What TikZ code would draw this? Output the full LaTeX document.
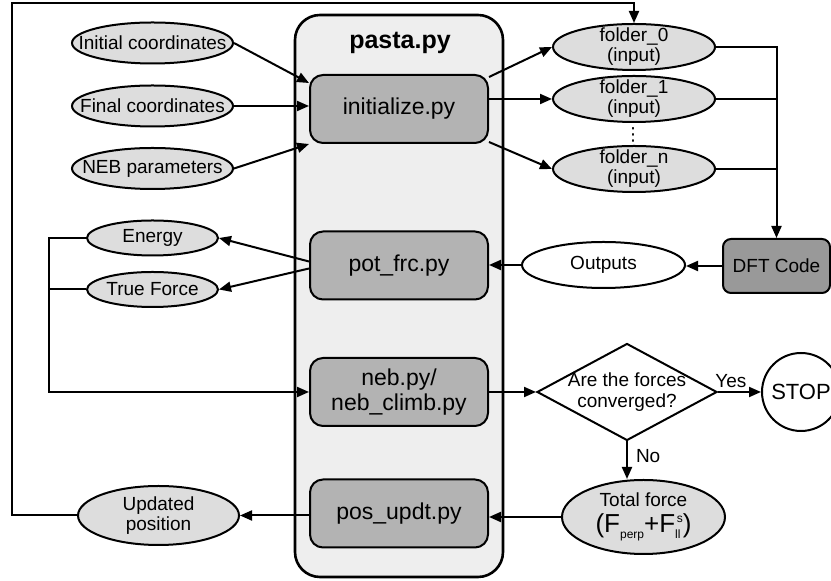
\documentclass[tikz,border=0pt]{standalone}
\usepackage{fontspec}
\setmainfont{Liberation Sans}
\newfontfamily\symbfont{DejaVu Sans}
\usepackage{tikz}
\usetikzlibrary{shapes.geometric, arrows.meta}

\definecolor{ovalgray}{HTML}{DDDDDD}
\definecolor{boxgray}{HTML}{B3B3B3}
\definecolor{codegray}{HTML}{999999}
\definecolor{pastagray}{HTML}{EEEEEE}

\begin{document}
\begin{tikzpicture}[x=0.5pt, y=-0.5pt, line width=1pt, >={Triangle[length=6pt,width=5pt]},
    container/.style={rectangle, rounded corners=12.5pt, draw, fill=pastagray, line width=1.3pt, minimum width=104pt, minimum height=281pt},
    module/.style={rectangle, rounded corners=6.5pt, draw, fill=boxgray, minimum width=89pt, minimum height=34pt, align=center, font=\fontsize{11.5}{12.5}\selectfont},
    code/.style={rectangle, rounded corners=4pt, draw, fill=codegray, minimum width=53.5pt, minimum height=27pt, font=\fontsize{9.5}{11}\selectfont},
    oval/.style={ellipse, draw, fill=ovalgray, inner sep=0pt, minimum width=80.5pt, minimum height=20.5pt, label={[align=center, font=\fontsize{9.5}{10}\selectfont]center:#1}},
    decision/.style={diamond, draw, fill=white, inner sep=0pt, minimum width=90pt, minimum height=48.5pt, label={[align=center, font=\fontsize{9.5}{10.5}\selectfont]center:#1}},
    stopper/.style={circle, draw, fill=white, minimum size=39pt, inner sep=0pt, font=\fontsize{11}{13}\selectfont}]

    \useasboundingbox (0,0) rectangle (831,581);

    % pasta.py and its modules
    \node [container] (pasta) at (399,296) {};
    \node [font=\bfseries\fontsize{12.5}{14}\selectfont] (ttl) at (400,43) {pasta.py};
    \node [module] (init) at (399,109) {initialize.py};
    \node [module] (pot) at (399,265.5) {pot\_frc.py};
    \node [module] (neb) at (399,392) {neb.py/\\neb\_climb.py};
    \node [module] (pos) at (399,513.5) {pos\_updt.py};

    % inputs and outputs
    \node [oval={Initial coordinates}] (ini) at (152.5,43) {};
    \node [oval={Final coordinates}] (fin) at (152.5,106) {};
    \node [oval={NEB parameters}] (par) at (152.5,168.5) {};
    \node [oval=Energy, minimum width=65.5pt, minimum height=17.5pt] (en) at (152.5,238) {};
    \node [oval={True Force}, minimum width=65.5pt, minimum height=17.5pt] (tf) at (152.5,289.5) {};
    \node [oval={Updated\\position}, minimum height=29.5pt] (upd) at (158.5,515.5) {};

    \node [oval={folder\_0\\(input)}, minimum width=81pt, minimum height=23pt] (f0) at (634,47) {};
    \node [oval={folder\_1\\(input)}, minimum width=81pt, minimum height=23pt] (f1) at (634,99) {};
    \node [oval={folder\_n\\(input)}, minimum width=81pt, minimum height=23pt] (fn) at (634,169) {};
    \node [font=\symbfont\fontsize{9}{9}\selectfont, inner sep=0pt] (dots) at (633,134.5) {⋮};

    \node [code] (dft) at (776.5,266) {DFT Code};
    \node [oval=Outputs, fill=white, minimum width=81.5pt, minimum height=23pt] (out) at (603.5,265) {};
    \node [decision={Are the forces\\converged?}] (cv) at (627,392) {};
    \node [stopper] (stop) at (801,392) {STOP};
    \node [oval={Total force\\[3pt]{\fontsize{13}{15}\selectfont (F\raisebox{-3pt}{\fontsize{6}{6}\selectfont perp}+F\rlap{\raisebox{-3pt}{\fontsize{6}{6}\selectfont ll}}\kern0.8pt\raisebox{5pt}{\fontsize{6}{6}\selectfont s})}}, minimum width=81.5pt, minimum height=37pt] (tot) at (643.5,517) {};

    \coordinate (tl) at (12,3);
    \coordinate (bl) at (49,392);

    % connectors
    \draw [->] (ini.east) -- ([yshift=13pt]init.west);
    \draw [->] (fin.east) -- (fin.east -| init.west);
    \draw [->] (par.east) -- (init.south west);
    \draw [->] ([yshift=16pt]init.east) -- (f0.west);
    \draw [->] ([yshift=5pt]init.east) -- (f1.west);
    \draw [->] ([yshift=-16.5pt]init.east) -- (fn.west);
    \draw [->] (f0.east) -| (dft.north);
    \draw (f1.east) -- (f1.east -| dft.north);
    \draw (fn.east) -- (fn.east -| dft.north);
    \draw [->] (dft.west) -- (dft.west -| out.east);
    \draw [->] (out.west) -- (out.west -| pot.east);
    \draw [->] ([yshift=2pt]pot.west) -- (en.east);
    \draw [->] ([yshift=-1.5pt]pot.west) -- (tf.east);
    \draw [->] (en.west) -| (bl) -- (neb.west);
    \draw (tf.west) -- (tf.west -| bl);
    \draw [->] (neb.east) -- (cv.west);
    \draw [->] (cv.east) -- node [above, pos=0.3, inner sep=1.5pt, font=\fontsize{9.5}{11}\selectfont] (yes) {Yes} (stop.west);
    \draw [->] (cv.south) -- node [right, pos=0.4, inner sep=4pt, font=\fontsize{9.5}{11}\selectfont] (no) {No} (cv.south |- tot.north);
    \draw [->] (tot.west) -- (tot.west -| pos.east);
    \draw [->] (pos.west |- upd.east) -- (upd.east);
    \draw [->] (upd.west) -| (tl) -| (f0.north);
\end{tikzpicture}
\end{document}
